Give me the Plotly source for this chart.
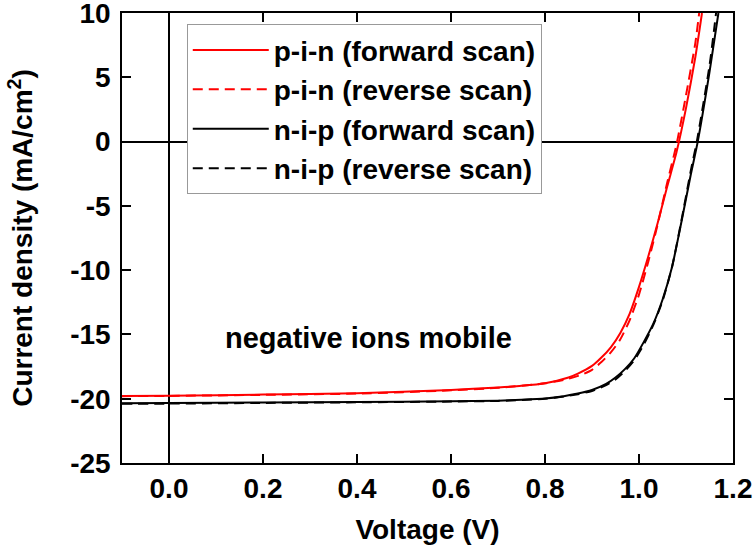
import plotly.graph_objects as go

# p-i-n forward scan (red solid)
pin_fwd_v = [-0.1, 0.0, 0.2, 0.4, 0.6, 0.7, 0.75, 0.8, 0.85, 0.87, 0.9, 0.92, 0.94, 0.96, 0.98, 1.0, 1.02, 1.04, 1.06, 1.08, 1.1, 1.12, 1.134]
pin_fwd_j = [-19.78, -19.76, -19.68, -19.58, -19.32, -19.12, -19.0, -18.8, -18.35, -18.05, -17.45, -16.8, -16.0, -14.9, -13.4, -11.3, -8.9, -6.3, -3.5, -0.8, 2.6, 6.6, 10.0]

# p-i-n reverse scan (red dashed)
pin_rev_v = [-0.1, 0.0, 0.2, 0.4, 0.6, 0.7, 0.8, 0.85, 0.88, 0.9, 0.92, 0.94, 0.96, 0.98, 1.0, 1.02, 1.04, 1.06, 1.08, 1.1, 1.12, 1.128]
pin_rev_j = [-19.8, -19.78, -19.7, -19.6, -19.35, -19.15, -18.8, -18.45, -18.1, -17.75, -17.15, -16.4, -15.4, -13.9, -11.9, -9.3, -6.4, -3.2, -0.2, 3.6, 7.7, 10.0]

# n-i-p forward scan (black solid)
nip_fwd_v = [-0.1, 0.0, 0.2, 0.4, 0.6, 0.7, 0.75, 0.8, 0.84, 0.87, 0.9, 0.93, 0.95, 0.97, 0.99, 1.01, 1.03, 1.05, 1.07, 1.09, 1.11, 1.125, 1.15, 1.169]
nip_fwd_j = [-20.35, -20.33, -20.3, -20.25, -20.2, -20.15, -20.08, -19.98, -19.8, -19.6, -19.32, -18.85, -18.35, -17.7, -16.85, -15.6, -14.2, -12.3, -9.8, -6.3, -2.6, 0.0, 5.4, 10.0]

# n-i-p reverse scan (black dashed)
nip_rev_v = [-0.1, 0.0, 0.2, 0.4, 0.6, 0.7, 0.75, 0.8, 0.84, 0.87, 0.9, 0.93, 0.95, 0.97, 0.99, 1.01, 1.03, 1.05, 1.07, 1.09, 1.11, 1.123, 1.15, 1.164]
nip_rev_j = [-20.4, -20.38, -20.33, -20.28, -20.22, -20.17, -20.1, -20.0, -19.83, -19.65, -19.4, -18.95, -18.5, -17.85, -17.0, -15.8, -14.3, -12.4, -9.8, -6.2, -2.3, 0.0, 5.9, 10.0]

x_tick_vals = [0.0, 0.2, 0.4, 0.6, 0.8, 1.0, 1.2]
x_tick_text = ["0.0", "0.2", "0.4", "0.6", "0.8", "1.0", "1.2"]
y_tick_vals = [10, 5, 0, -5, -10, -15, -20, -25]
y_tick_text = ["10", "5", "0", "-5", "-10", "-15", "-20", "-25"]

FONT = "Liberation Sans, Arial, sans-serif"
FS = 28

fig = go.Figure()
series = [
    (pin_fwd_v, pin_fwd_j, "p-i-n (forward scan)", "#ff0000", "solid"),
    (pin_rev_v, pin_rev_j, "p-i-n (reverse scan)", "#ff0000", "10px,6px"),
    (nip_fwd_v, nip_fwd_j, "n-i-p (forward scan)", "#000000", "solid"),
    (nip_rev_v, nip_rev_j, "n-i-p (reverse scan)", "#000000", "10px,6px"),
]
for v, j, name, color, dash in series:
    fig.add_trace(go.Scatter(x=v, y=j, mode="lines", name=name,
                             line=dict(color=color, width=2, dash=dash, shape="spline", smoothing=0.6)))

fig.add_annotation(x=0.424, y=-15.3, xref="x", yref="y", text="negative ions mobile",
                   showarrow=False, font=dict(family=FONT, size=29, color="black", weight="bold"))

axis_common = dict(showline=True, linecolor="black", linewidth=1.5, mirror="ticks",
                   ticks="inside", ticklen=9, tickwidth=1.5, tickcolor="black",
                   showgrid=False, zeroline=True, zerolinecolor="black", zerolinewidth=1.5,
                   ticklabeloverflow="allow",
                   tickfont=dict(family=FONT, size=FS, color="black", weight="bold"))

fig.update_xaxes(range=[-0.1, 1.2], tickmode="array", tickvals=x_tick_vals, ticktext=x_tick_text,
                 ticklabelstandoff=0,
                 title=dict(text="Voltage (V)", standoff=16,
                            font=dict(family=FONT, size=FS, color="black", weight="bold")),
                 **axis_common)
fig.update_yaxes(range=[-25, 10], tickmode="array", tickvals=y_tick_vals, ticktext=y_tick_text,
                 ticklabelstandoff=4,
                 title=dict(text="Current density (mA/cm<sup>2</sup>)", standoff=29,
                            font=dict(family=FONT, size=FS, color="black", weight="bold")),
                 **axis_common)

fig.update_layout(
    width=753, height=554,
    margin=dict(l=122, r=20, t=13, b=91, autoexpand=False),
    plot_bgcolor="white", paper_bgcolor="white",
    legend=dict(x=0.106, y=0.975, xanchor="left", yanchor="top",
                bgcolor="white", bordercolor="#999999", borderwidth=1,
                font=dict(family=FONT, size=28, color="black", weight="bold"),
                tracegroupgap=0, itemwidth=76),
)

fig.write_html("out.html", config={"displayModeBar": False},
               post_script="document.body.style.margin='0';")
